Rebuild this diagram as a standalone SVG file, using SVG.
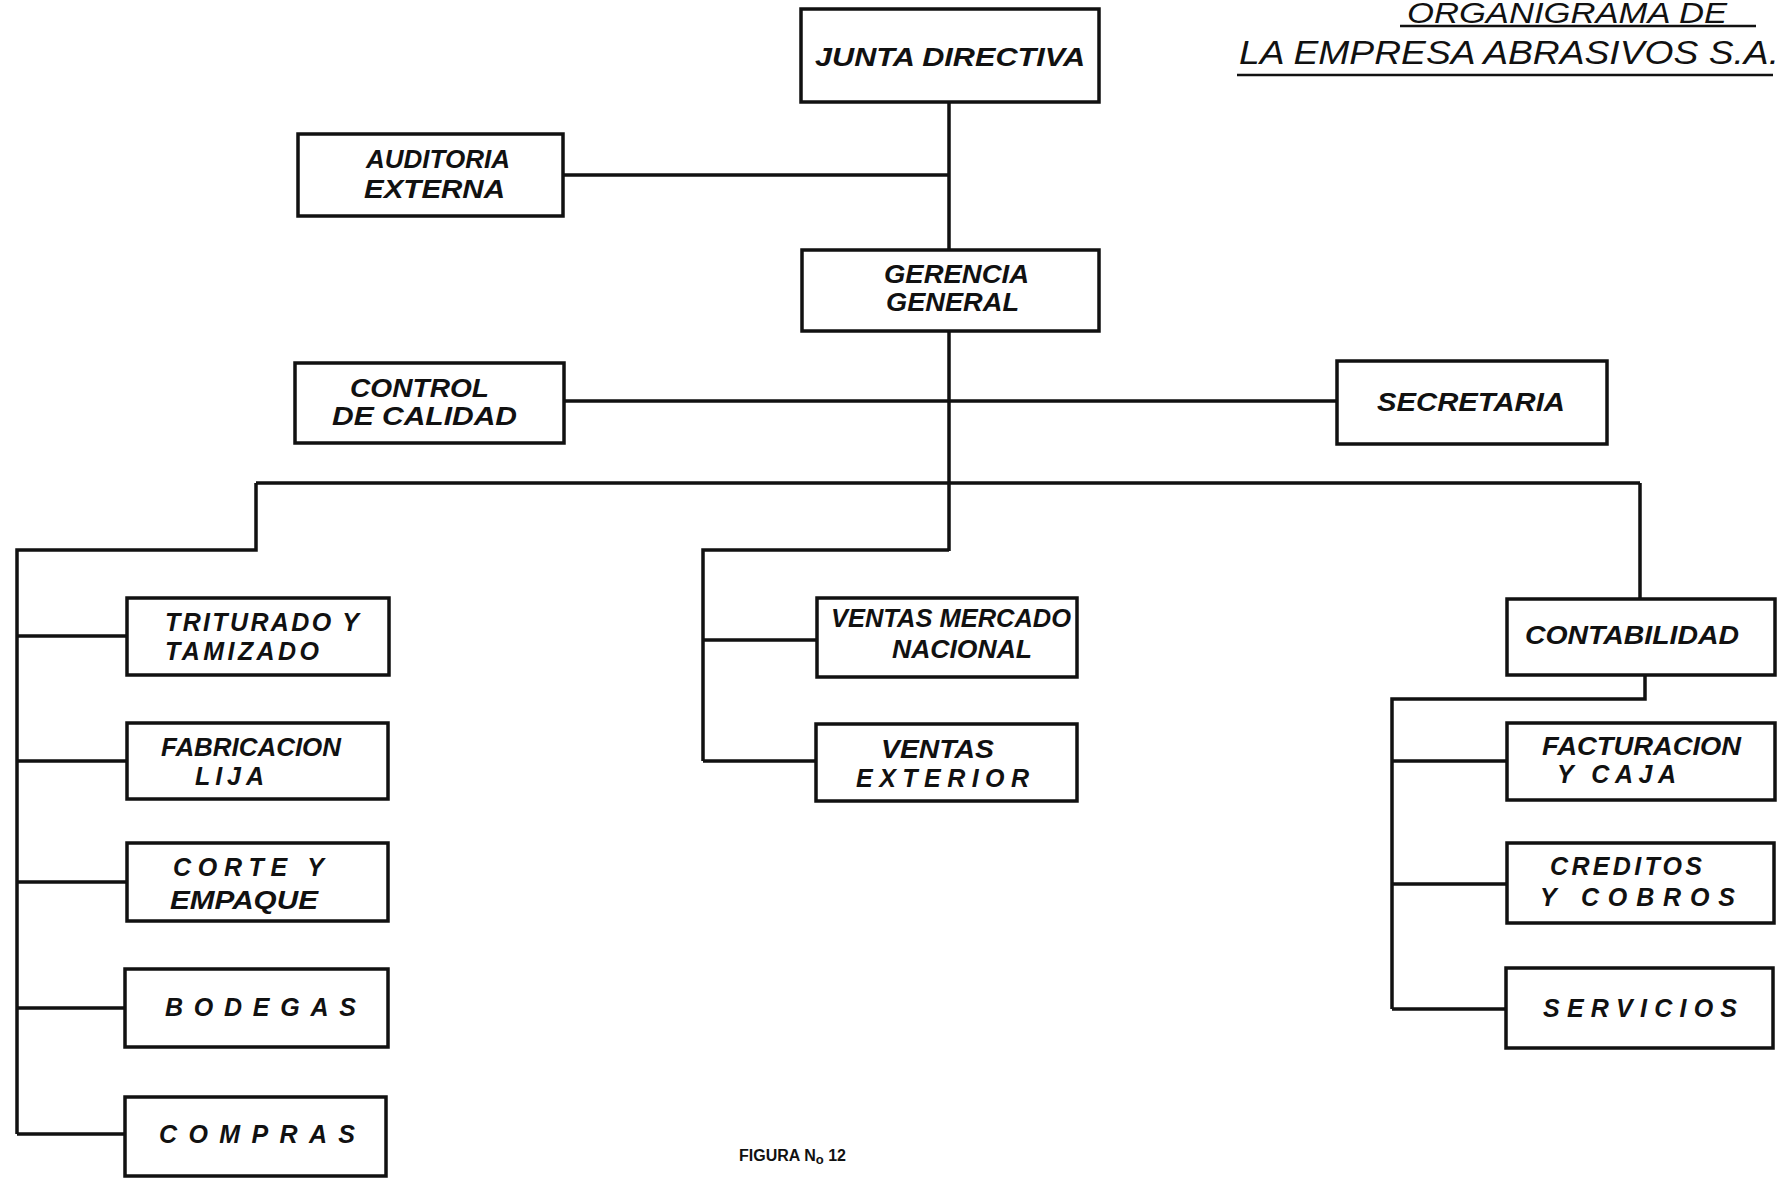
<svg xmlns="http://www.w3.org/2000/svg" width="1782" height="1179" viewBox="0 0 1782 1179">
<style>
.box{fill:#fff;stroke:#111;stroke-width:3.5}
.t{font-family:"Liberation Sans",Arial,sans-serif;font-weight:bold;font-style:italic;font-size:25px;fill:#111}
.ttl{font-family:"Liberation Sans",Arial,sans-serif;font-style:italic;font-size:33px;fill:#111}
.ln{fill:none;stroke:#111;stroke-width:3.5}
.ul{stroke:#111;stroke-width:2.5}
</style>
<rect width="1782" height="1179" fill="#fff"/>
<g id="title">
<text class="ttl" x="1407" y="23" style="font-size:29px" textLength="320" lengthAdjust="spacingAndGlyphs">ORGANIGRAMA  DE</text>
<line class="ul" x1="1400" y1="26" x2="1756" y2="26"/>
<text class="ttl" x="1239" y="64" textLength="540" lengthAdjust="spacingAndGlyphs">LA EMPRESA ABRASIVOS S.A.</text>
<line class="ul" x1="1237" y1="75" x2="1773" y2="75"/>
</g>
<g id="connectors">
<path class="ln" d="M949 102V250M563 175H949M949 331V551M564 401H1337M256 483H1640"/>
<path class="ln" d="M256 483V550H17V1134M17 636H127M17 761H127M17 882H127M17 1008H125M17 1134H125"/>
<path class="ln" d="M949 550H703V761M703 640H817M703 761H816"/>
<path class="ln" d="M1640 483V599M1645 675V699H1392V1009M1392 761H1507M1392 884H1507M1392 1009H1506"/>
</g>
<g id="junta"><rect class="box" x="801" y="9" width="298" height="93"/><text class="t" x="815" y="66" textLength="270" lengthAdjust="spacingAndGlyphs">JUNTA  DIRECTIVA</text></g>
<g id="auditoria"><rect class="box" x="298" y="134" width="265" height="82"/><text class="t" x="366" y="168" textLength="144" lengthAdjust="spacingAndGlyphs">AUDITORIA</text><text class="t" x="364" y="198" textLength="141" lengthAdjust="spacingAndGlyphs">EXTERNA</text></g>
<g id="gerencia"><rect class="box" x="802" y="250" width="297" height="81"/><text class="t" x="884" y="283" textLength="145" lengthAdjust="spacingAndGlyphs">GERENCIA</text><text class="t" x="886" y="311" textLength="133" lengthAdjust="spacingAndGlyphs">GENERAL</text></g>
<g id="control"><rect class="box" x="295" y="363" width="269" height="80"/><text class="t" x="350" y="397" textLength="139" lengthAdjust="spacingAndGlyphs">CONTROL</text><text class="t" x="332" y="425" textLength="185" lengthAdjust="spacingAndGlyphs">DE  CALIDAD</text></g>
<g id="secretaria"><rect class="box" x="1337" y="361" width="270" height="83"/><text class="t" x="1377" y="411" textLength="188" lengthAdjust="spacingAndGlyphs">SECRETARIA</text></g>
<g id="triturado"><rect class="box" x="127" y="598" width="262" height="77"/><text class="t" x="165" y="631" textLength="194" lengthAdjust="spacing">TRITURADO  Y</text><text class="t" x="165" y="660" textLength="154" lengthAdjust="spacing">TAMIZADO</text></g>
<g id="fabricacion"><rect class="box" x="127" y="723" width="261" height="76"/><text class="t" x="161" y="756" textLength="180" lengthAdjust="spacingAndGlyphs">FABRICACION</text><text class="t" x="195" y="785" textLength="69" lengthAdjust="spacing">LIJA</text></g>
<g id="corte"><rect class="box" x="127" y="843" width="261" height="78"/><text class="t" x="173" y="876" textLength="151" lengthAdjust="spacing">CORTE  Y</text><text class="t" x="170" y="909" textLength="148" lengthAdjust="spacingAndGlyphs">EMPAQUE</text></g>
<g id="bodegas"><rect class="box" x="125" y="969" width="263" height="78"/><text class="t" x="165" y="1016" textLength="191" lengthAdjust="spacing">BODEGAS</text></g>
<g id="compras"><rect class="box" x="125" y="1097" width="261" height="79"/><text class="t" x="159" y="1143" textLength="196" lengthAdjust="spacing">COMPRAS</text></g>
<g id="ventas-nacional"><rect class="box" x="817" y="598" width="260" height="79"/><text class="t" x="831" y="627" textLength="240" lengthAdjust="spacingAndGlyphs">VENTAS MERCADO</text><text class="t" x="892" y="658" textLength="140" lengthAdjust="spacingAndGlyphs">NACIONAL</text></g>
<g id="ventas-exterior"><rect class="box" x="816" y="724" width="261" height="77"/><text class="t" x="881" y="758" textLength="113" lengthAdjust="spacingAndGlyphs">VENTAS</text><text class="t" x="856" y="787" textLength="173" lengthAdjust="spacing">EXTERIOR</text></g>
<g id="contabilidad"><rect class="box" x="1507" y="599" width="268" height="76"/><text class="t" x="1525" y="644" textLength="214" lengthAdjust="spacingAndGlyphs">CONTABILIDAD</text></g>
<g id="facturacion"><rect class="box" x="1507" y="723" width="268" height="77"/><text class="t" x="1542" y="755" textLength="199" lengthAdjust="spacingAndGlyphs">FACTURACION</text><text class="t" x="1557" y="783" textLength="119" lengthAdjust="spacing">Y  CAJA</text></g>
<g id="creditos"><rect class="box" x="1507" y="843" width="267" height="80"/><text class="t" x="1550" y="875" textLength="152" lengthAdjust="spacing">CREDITOS</text><text class="t" x="1540" y="906" textLength="195" lengthAdjust="spacing">Y  COBROS</text></g>
<g id="servicios"><rect class="box" x="1506" y="968" width="267" height="80"/><text class="t" x="1543" y="1017" textLength="194" lengthAdjust="spacing">SERVICIOS</text></g>
<g id="figura"><text x="739" y="1161" style="font-family:'Liberation Sans',Arial,sans-serif;font-weight:bold;font-size:16px;fill:#111">FIGURA  N<tspan font-size="13" dy="3">o</tspan><tspan dy="-3"> 12</tspan></text></g>
</svg>
